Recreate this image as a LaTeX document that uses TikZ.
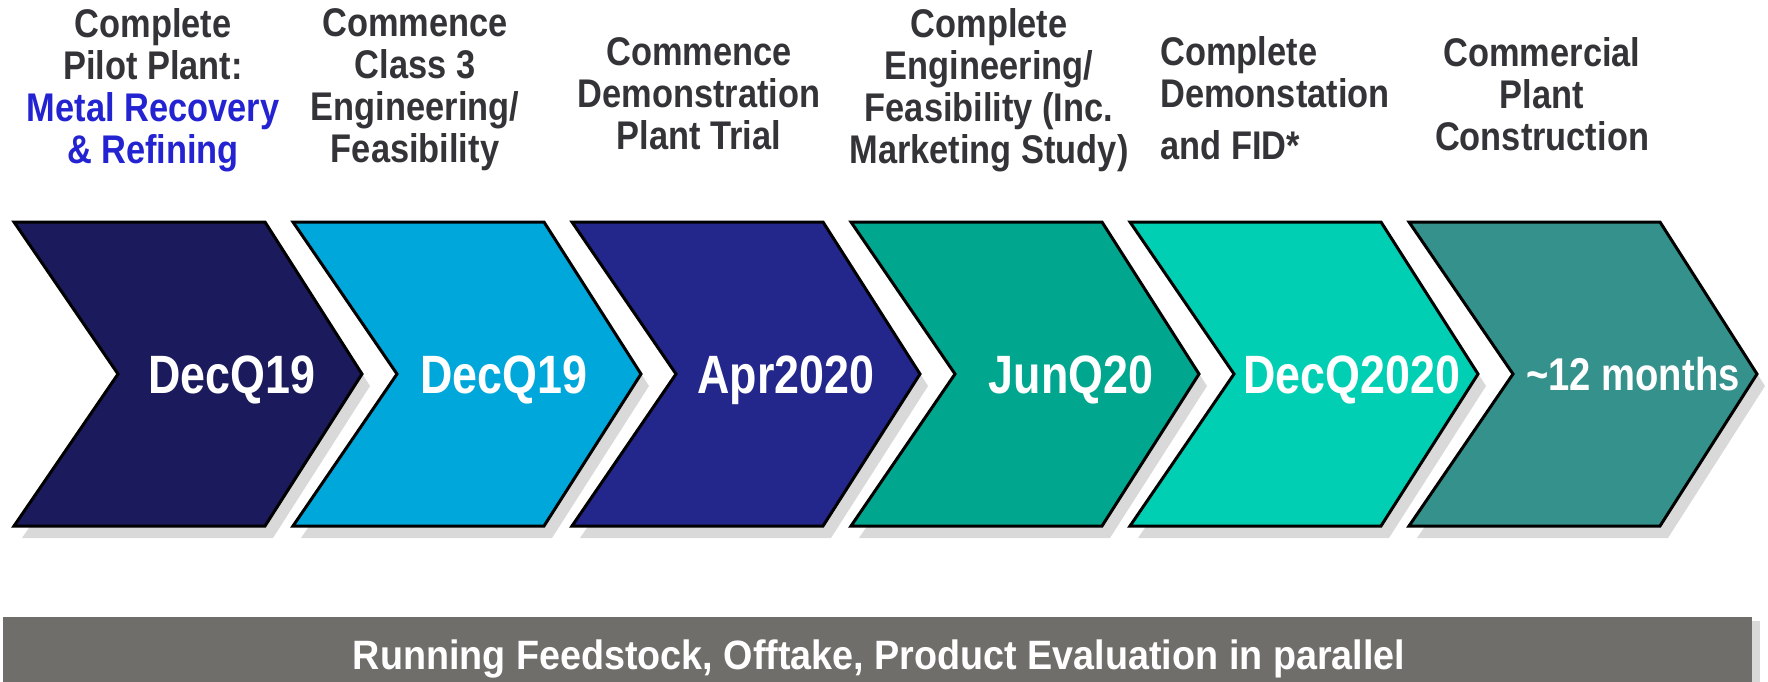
\documentclass[tikz,border=0pt]{standalone}
\usepackage{fontspec}
\setmainfont{Liberation Sans}[FakeStretch=0.83]
\newfontfamily\taskfont{Liberation Sans}[FakeStretch=0.86]
\newfontfamily\barfont{Liberation Sans}[FakeStretch=0.92]
\usetikzlibrary{shadows}

\definecolor{navy}{HTML}{1A1A5C}
\definecolor{sky}{HTML}{00A7DA}
\definecolor{indigo}{HTML}{23268A}
\definecolor{teal}{HTML}{00A68E}
\definecolor{aqua}{HTML}{00CFB3}
\definecolor{sea}{HTML}{35918B}
\definecolor{slate}{HTML}{706E6B}
\definecolor{ink}{HTML}{333338}
\definecolor{recov}{HTML}{2323D2}

\begin{document}
\begin{tikzpicture}[x=0.5pt,y=-0.5pt]
\tikzstyle{chev}=[draw=black, line width=1.5pt, line join=miter,
  drop shadow={shadow xshift=4pt, shadow yshift=-6pt, opacity=0.3}]
\tikzstyle{date}=[text=white, font=\fontsize{27}{30}\selectfont\bfseries, anchor=base, inner sep=0pt]
\tikzstyle{task}=[text=ink, font=\taskfont\fontsize{20}{21}\selectfont\bfseries, align=center, anchor=north, inner sep=0pt]
\useasboundingbox (0,0) rectangle (1768,681);
  % chevrons
  \draw[chev, fill=navy]   (14,222)   -- ++(251,0) -- ++(97,152) -- ++(-97,152) -- ++(-251,0) -- ++(104,-152) -- cycle;
  \draw[chev, fill=sky]    (293,222)  -- ++(251,0) -- ++(97,152) -- ++(-97,152) -- ++(-251,0) -- ++(104,-152) -- cycle;
  \draw[chev, fill=indigo] (572,222)  -- ++(251,0) -- ++(97,152) -- ++(-97,152) -- ++(-251,0) -- ++(104,-152) -- cycle;
  \draw[chev, fill=teal]   (851,222)  -- ++(251,0) -- ++(97,152) -- ++(-97,152) -- ++(-251,0) -- ++(104,-152) -- cycle;
  \draw[chev, fill=aqua]   (1130,222) -- ++(251,0) -- ++(97,152) -- ++(-97,152) -- ++(-251,0) -- ++(104,-152) -- cycle;
  \draw[chev, fill=sea]    (1409,222) -- ++(251,0) -- ++(97,152) -- ++(-97,152) -- ++(-251,0) -- ++(104,-152) -- cycle;
  \node[date] (d1) at (232,393) {DecQ19};
  \node[date] (d2) at (504,393) {DecQ19};
  \node[date] (d3) at (786,393) {Apr2020};
  \node[date] (d4) at (1071,393) {JunQ20};
  \node[date] (d5) at (1352,393) {DecQ2020};
  \node[date, font=\fontsize{23}{26}\selectfont\bfseries] (d6) at (1633,390) {\textasciitilde12 months};
  % milestones
  \node[task] (t1) at (153,8) {Complete\\Pilot Plant:\\\textcolor{recov}{Metal Recovery}\\\textcolor{recov}{\& Refining}};
  \node[task] (t2) at (415,8) {Commence\\Class 3\\Engineering/\\Feasibility};
  \node[task] (t3) at (699,37) {Commence\\Demonstration\\Plant Trial};
  \node[task] (t4) at (989,8) {Complete\\Engineering/\\Feasibility (Inc.\\Marketing Study)};
  \node[task, align=left, anchor=north west] (t5) at (1160,36) {Complete\\Demonstation\\[5pt]and FID*};
  \node[task] (t6) at (1542,37) {Commercial\\Plant\\Construction};
  % parallel work
  \fill[slate, drop shadow={shadow xshift=4pt, shadow yshift=-2pt, opacity=0.3}] (3,617) rectangle (1752,690);
  \node[text=white, font=\barfont\fontsize{20.5}{22}\selectfont\bfseries, anchor=base, inner sep=0pt] (par) at (879,669)
    {Running Feedstock, Offtake, Product Evaluation in parallel};
\end{tikzpicture}
\end{document}
